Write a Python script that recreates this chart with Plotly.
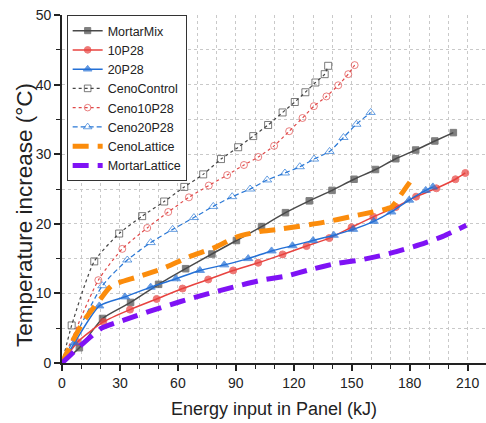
import plotly.graph_objects as go

# ---- data ----
mortarmix_x = [0, 9, 21, 35.5, 50, 64, 77.6, 90.3, 103.3, 115.7, 128, 139.8, 151.2, 162.3, 172.8, 183.1, 193, 202.6]
mortarmix_y = [0, 2.2, 6.4, 8.7, 11.3, 13.55, 15.66, 17.6, 19.6, 21.6, 23.3, 24.8, 26.4, 27.8, 29.35, 30.6, 31.9, 33.1]

p10_x = [0, 8, 21.4, 35.2, 49, 62.4, 75.7, 88.6, 101.6, 114.2, 126.6, 138.4, 149.9, 161.2, 172.8, 183.3, 193.8, 203.7, 208.8]
p10_y = [0, 3.0, 5.9, 7.67, 9.2, 10.7, 12.0, 13.3, 14.4, 15.6, 16.8, 17.95, 19.5, 21.0, 22.4, 23.9, 25.1, 26.4, 27.3]

p20_x = [0, 6.5, 19.3, 32.6, 45.9, 59, 71.4, 84, 96.4, 108.5, 119.3, 130, 140.7, 150.7, 161.4, 170.5, 179.7, 188.3, 192]
p20_y = [0, 2.9, 8.2, 9.5, 10.9, 12.1, 13.3, 14.1, 15.0, 16.1, 16.85, 17.6, 18.35, 19.2, 20.35, 21.7, 23.4, 24.8, 25.3]

cenoctrl_x = [0, 5, 16.7, 29.6, 41.5, 52.9, 63.3, 73.1, 82.3, 91.2, 99, 106.7, 114.2, 120.5, 126, 131.2, 136, 137.8]
cenoctrl_y = [0, 5.4, 14.6, 18.6, 21.1, 23.2, 25.3, 27.1, 29.3, 31.0, 32.6, 34.2, 36.0, 37.5, 38.9, 40.3, 41.5, 42.7]

ceno10_x = [0, 18.8, 31.2, 44.1, 55, 65.7, 76, 85.5, 94.2, 101.6, 109.8, 117.6, 124.5, 130.4, 136.9, 143, 148.2, 151.5]
ceno10_y = [0, 11.9, 16.4, 19.4, 21.7, 23.8, 25.5, 27.0, 28.45, 29.6, 31.2, 33.3, 35.2, 36.9, 38.3, 39.9, 41.5, 42.8]

ceno20_x = [0, 20.9, 33.8, 45.9, 57.3, 68.3, 78.3, 88.1, 97.4, 106.2, 115.4, 123.1, 130.5, 138.5, 145.7, 152.4, 159.8]
ceno20_y = [0, 11.1, 14.8, 17.3, 19.2, 20.9, 22.5, 23.9, 25.0, 26.3, 27.3, 28.2, 29.3, 30.4, 32.4, 34.3, 36.0]

cenolat_x = [0, 4.8, 10.9, 16.2, 19.5, 25.7, 39.5, 52.4, 66.2, 78.3, 90.3, 102.4, 112, 135.2, 150.7, 161, 166, 170.5, 174.5, 178.3, 182.2]
cenolat_y = [0, 2.8, 5.9, 7.9, 9.05, 11.1, 12.4, 13.6, 15.3, 16.5, 18.1, 18.9, 19.2, 20.2, 21.1, 21.7, 22.0, 22.4, 23.8, 25.3, 26.8]

mortlat_x = [0, 5, 10, 20.5, 33.5, 47.2, 61, 74.8, 88.6, 102.4, 116.2, 128.3, 142.1, 154.2, 164.5, 173.1, 185.2, 197.2, 209.3]
mortlat_y = [0, 1.3, 2.6, 5.0, 6.3, 7.6, 8.8, 9.9, 10.9, 11.85, 12.5, 13.4, 14.3, 14.8, 15.4, 16.0, 17.0, 18.2, 19.8]

x_title = "Energy input in Panel (kJ)"
y_title = "Temperature increase (°C)"

FONT = "Arial, Liberation Sans, sans-serif"

fig = go.Figure()


def sizes(xs, s):
    return [0] + [s] * (len(xs) - 1)


def add_marked(name, xs, ys, color, symbol, msize, dash, width):
    fig.add_trace(go.Scatter(
        x=xs, y=ys, name=name, mode="lines+markers",
        line=dict(color=color, width=width, dash=dash, shape="spline", smoothing=0.6),
        marker=dict(symbol=symbol, size=sizes(xs, msize), color=color,
                    line=dict(color=color, width=1)),
    ))


add_marked("MortarMix", mortarmix_x, mortarmix_y, "#4a4a4a", "square", 6.5, "solid", 1.5)
add_marked("10P28", p10_x, p10_y, "#e8433f", "circle", 7, "solid", 1.5)
add_marked("20P28", p20_x, p20_y, "#2470d6", "triangle-up", 8, "solid", 1.5)
add_marked("CenoControl", cenoctrl_x, cenoctrl_y, "#454545", "square-open", 7, "3px,3px", 1.2)
add_marked("Ceno10P28", ceno10_x, ceno10_y, "#e04848", "circle-open", 7, "3px,3px", 1.2)
add_marked("Ceno20P28", ceno20_x, ceno20_y, "#2a78d6", "triangle-up-open", 8, "5px,3px", 1.2)

fig.add_trace(go.Scatter(x=cenolat_x, y=cenolat_y, name="CenoLattice", mode="lines",
                         line=dict(color="#fb8c0c", width=5, dash="16px,9px", shape="spline", smoothing=0.6)))
fig.add_trace(go.Scatter(x=mortlat_x, y=mortlat_y, name="MortarLattice", mode="lines",
                         line=dict(color="#7f12f5", width=5, dash="16px,9px", shape="spline", smoothing=0.6)))

grid = dict(showgrid=True, gridcolor="#c9c9c9", gridwidth=1, griddash="dot")

fig.update_layout(
    width=486, height=423,
    margin=dict(l=62, r=0, t=15, b=60),
    paper_bgcolor="white", plot_bgcolor="white",
    font=dict(family=FONT, size=14, color="#222"),
    showlegend=True,
    legend=dict(x=0.011, y=1, xanchor="left", yanchor="top",
                bordercolor="#333", borderwidth=1, bgcolor="white",
                font=dict(size=12.5, family=FONT, color="#222"),
                tracegroupgap=0, itemwidth=30),
    xaxis=dict(range=[0, 219.5], tick0=0, dtick=30, ticks="outside", ticklen=6, tickwidth=1.5,
               tickcolor="#222", showline=True, linecolor="#222", linewidth=1.8, zeroline=False,
               minor=dict(dtick=10, ticks="outside", ticklen=4, tickcolor="#222", tickwidth=1.2, **grid),
               **grid,
               title=dict(text=x_title, font=dict(size=18, family=FONT), standoff=13),
               automargin=False),
    yaxis=dict(range=[0, 50], tick0=0, dtick=10, ticks="outside", ticklen=6, tickwidth=1.5,
               tickcolor="#222", showline=True, linecolor="#222", linewidth=1.8, zeroline=False,
               minor=dict(dtick=5, ticks="outside", ticklen=4, tickcolor="#222", tickwidth=1.2, **grid),
               **grid,
               automargin=False),
    annotations=[dict(text=y_title, textangle=-90, xref="paper", yref="paper",
                      x=-0.0896, y=0.425, xanchor="center", yanchor="middle", showarrow=False,
                      font=dict(size=22.5, family=FONT, color="#222"))],
)

fig.write_html("out.html")
